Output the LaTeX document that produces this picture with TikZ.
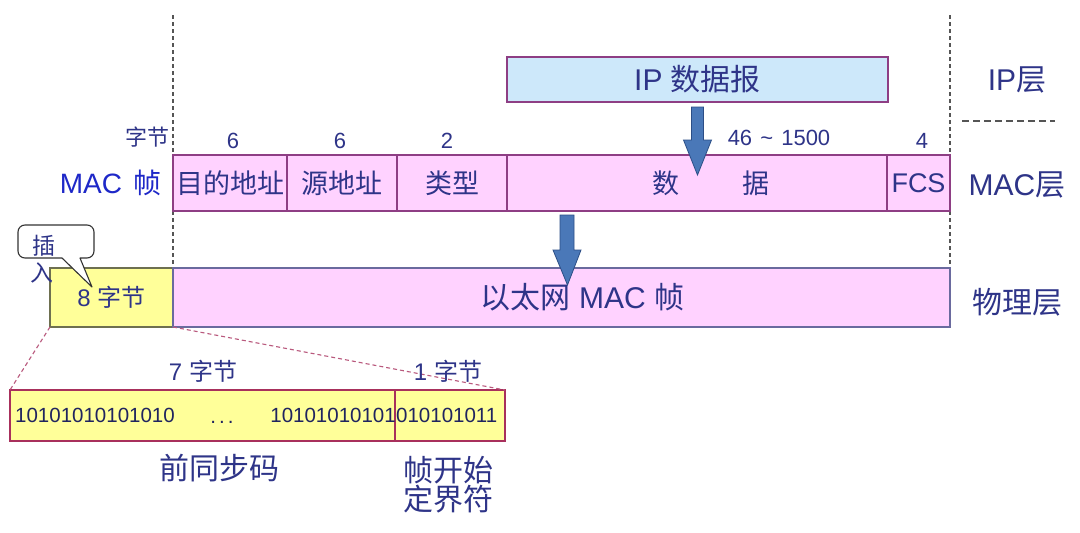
\documentclass[tikz,border=0pt]{standalone}
\usepackage{fontspec}
\setmainfont{Liberation Sans}
\newfontfamily\cjk{Noto Sans CJK SC}
\usetikzlibrary{calc}
\definecolor{txt}{HTML}{2E3488}
\definecolor{macblue}{HTML}{1E28C8}
\definecolor{pinkfill}{HTML}{FFD2FF}
\definecolor{pinkline}{HTML}{8E3E84}
\definecolor{physline}{HTML}{6A6A9E}
\definecolor{ipfill}{HTML}{CDE8FA}
\definecolor{yellowfill}{HTML}{FFFF99}
\definecolor{yline}{HTML}{6E7050}
\definecolor{preline}{HTML}{A8305C}
\definecolor{arrowfill}{HTML}{4A78B8}
\definecolor{arrowline}{HTML}{2C4E86}
\definecolor{guide}{HTML}{555555}
\begin{document}
\begin{tikzpicture}[x=1pt,y=-1pt,
  box/.style={draw, inner sep=0pt, outer sep=0pt, anchor=north west, line width=1.1pt, text=txt, font=\fontsize{27}{30}\selectfont},
  macbox/.style={box, fill=pinkfill, draw=pinkline},
  lbl/.style={text=txt, inner sep=0pt, font=\fontsize{22}{25}\selectfont},
  big/.style={text=txt, inner sep=0pt, font=\fontsize{30}{32}\selectfont},
  bits/.style={text=txt!70!black, inner sep=0pt, font=\fontsize{20.5}{23}\selectfont},
  guideline/.style={draw=guide, line width=1.3pt, dash pattern=on 4pt off 3pt},
  blockarrow/.style={fill=arrowfill, draw=arrowline, line width=0.8pt, line join=miter}
]
\useasboundingbox (0,0) rectangle (1080,533);
\fill[white] (0,0) rectangle (1080,533);

% guide lines
\coordinate (gl1) at (173,15);
\coordinate (gl2) at (173,268);
\coordinate (gr1) at (950,15);
\coordinate (gr2) at (950,268);
\draw[guideline] (gl1) -- (gl2);
\draw[guideline] (gr1) -- (gr2);
\coordinate (h1) at (962,121);
\coordinate (h2) at (1055,121);
\draw[draw=guide, line width=1.3pt, dash pattern=on 7pt off 4pt] (h1) -- (h2);

% IP datagram
\node[box, fill=ipfill, draw=pinkline, minimum width=381, minimum height=45, font=\fontsize{30}{32}\selectfont] (ip) at (507,57)
  {IP {\cjk 数据报}};

% MAC frame row
\node[macbox, minimum width=114, minimum height=56] (dst) at (173,155) {\cjk 目的地址};
\node[macbox, minimum width=110, minimum height=56] (src) at (287,155) {\cjk 源地址};
\node[macbox, minimum width=110, minimum height=56] (typ) at (397,155) {\cjk 类型};
\node[macbox, minimum width=380, minimum height=56] (dat) at (507,155) {\hspace{28pt}{\cjk 数\hspace{63pt}据}};
\node[macbox, minimum width=63, minimum height=56] (fcs) at (887,155) {FCS};

% byte counts
\node[lbl, anchor=south east] (zj) at (170,147) {\cjk 字节};
\node[lbl, anchor=south] (n1) at (233,149) {6};
\node[lbl, anchor=south] (n2) at (340,149) {6};
\node[lbl, anchor=south] (n3) at (447,149) {2};
\node[lbl, anchor=south] (n4) at (779,146) {46\hspace{2pt} \textasciitilde{} \hspace{2pt}1500};
\node[lbl, anchor=south] (n5) at (922,149) {4};

\node[text=macblue, inner sep=0pt, font=\fontsize{28}{30}\selectfont, anchor=east] (macf) at (162,183) {MAC\hspace{4pt} {\cjk 帧}};

% layer labels
\node[big] (lip) at (1017,80) {IP{\cjk 层}};
\node[big] (lmac) at (1017,185) {MAC{\cjk 层}};
\node[big] (lphy) at (1017,302) {\cjk 物理层};

% physical row
\node[box, fill=yellowfill, draw=yline, minimum width=123, minimum height=59, font=\fontsize{24}{26}\selectfont] (eight) at (50,268) {8 {\cjk 字节}};
\node[box, fill=pinkfill, draw=physline, minimum width=777, minimum height=59, font=\fontsize{30}{32}\selectfont] (eth) at (173,268) {\hspace{42pt}{\cjk 以太网} MAC {\cjk 帧}};

% arrows
\draw[blockarrow] ($(ip.south)+(-6,5)$) -- ($(ip.south)+(6,5)$) -- ($(ip.south)+(6,38)$) -- ($(ip.south)+(14,38)$)
  -- ($(ip.south)+(0,73)$) -- ($(ip.south)+(-14,38)$) -- ($(ip.south)+(-6,38)$) -- cycle;
\coordinate (a2) at (567,211);
\draw[blockarrow] ($(a2)+(-7,4)$) -- ($(a2)+(7,4)$) -- ($(a2)+(7,39)$) -- ($(a2)+(14,39)$)
  -- ($(eth.north)+(6,17)$) -- ($(a2)+(-14,39)$) -- ($(a2)+(-7,39)$) -- cycle;

% callout
\draw[draw=black!80, line width=1.1pt, fill=white, line join=round]
  (62,258) -- (92,287) -- (80,258) [rounded corners=7pt] -- (94,258) -- (94,225) -- (18,225) -- (18,258) [sharp corners] -- cycle;
\node[text=txt, inner sep=0pt, font=\fontsize{23}{26}\selectfont] (ins1) at (44,246) {\cjk 插};
\node[text=txt, inner sep=0pt, font=\fontsize{23}{26}\selectfont] (ins2) at (42,273) {\cjk 入};

% preamble box
\node[box, fill=yellowfill, draw=preline, minimum width=385, minimum height=51] (pre) at (10,390) {};
\node[box, fill=yellowfill, draw=preline, minimum width=110, minimum height=51] (sfd) at (395,390) {};
\draw[draw=preline!80, line width=1.1pt, dash pattern=on 4pt off 3pt] (eight.south west) -- (pre.north west);
\draw[draw=preline!80, line width=1.1pt, dash pattern=on 4pt off 3pt] (eight.south east) -- (sfd.north east);
\node[bits, anchor=west] (b1) at (15,415) {10101010101010};
\node[bits] (dots) at (222,422) {.\hspace{3pt}.\hspace{3pt}.};
\node[bits, anchor=east] (b2) at (396,415) {10101010101};
\node[bits, anchor=west] (b3) at (396,415) {010101011};

\node[text=txt, inner sep=0pt, font=\fontsize{24}{26}\selectfont] (s7) at (203,371) {7 {\cjk 字节}};
\node[text=txt, inner sep=0pt, font=\fontsize{24}{26}\selectfont] (s1) at (448,371) {1 {\cjk 字节}};
\node[big] (qt) at (219,468) {\cjk 前同步码};
\node[big] (sf1) at (448,470) {\cjk 帧开始};
\node[big] (sf2) at (448,499) {\cjk 定界符};
\end{tikzpicture}
\end{document}
